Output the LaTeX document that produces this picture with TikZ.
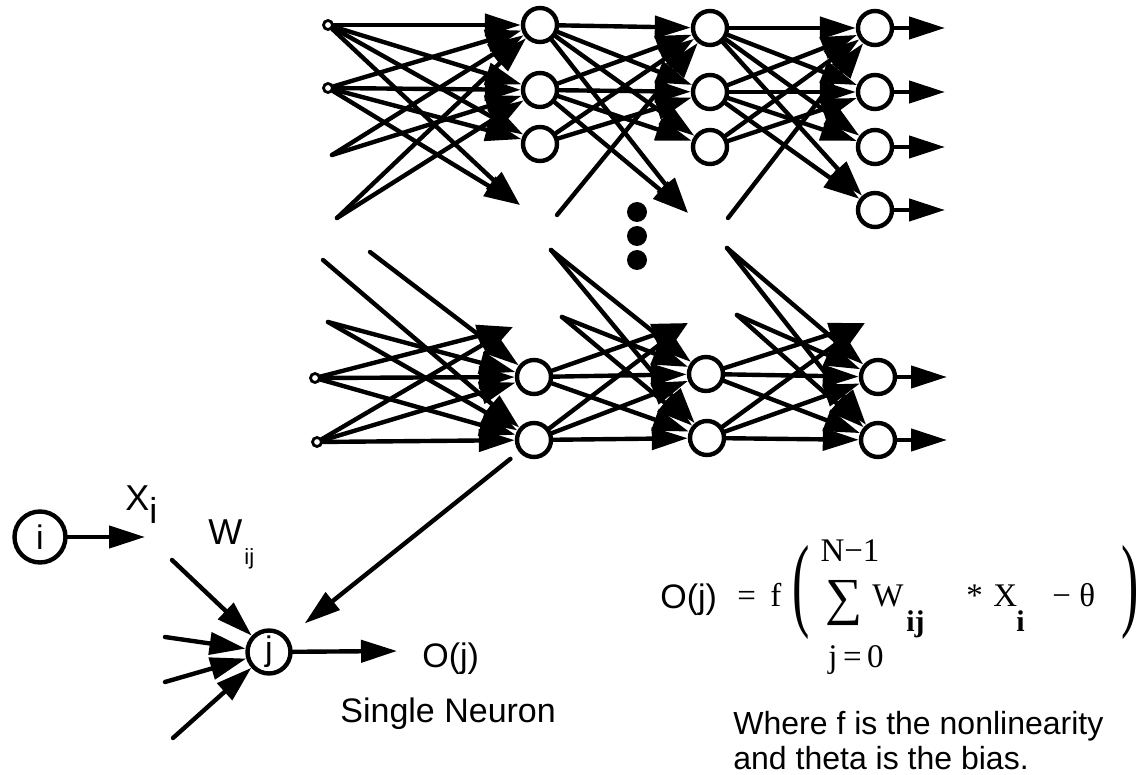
\documentclass[tikz,border=0pt]{standalone}
\usepackage{fontspec}
\setmainfont{Liberation Serif}
\setsansfont{Liberation Sans}
\usetikzlibrary{arrows.meta}

\begin{document}
\begin{tikzpicture}[x=0.5pt, y=-0.5pt,
    neuron/.style={circle, draw=black, line width=2.2pt, fill=white, minimum size=17pt, inner sep=0pt},
    innode/.style={circle, draw=black, line width=1.4pt, fill=white, minimum size=4.5pt, inner sep=0pt},
    bignode/.style={circle, draw=black, line width=2.2pt, fill=white, inner sep=0pt, font=\sffamily\fontsize{17}{20}\selectfont},
    gapdot/.style={circle, fill=black, minimum size=10pt, inner sep=0pt},
    wire/.style={line width=2.2pt, line cap=round, -{Triangle[length=18pt,width=11pt]}},
    txt/.style={font=\sffamily\fontsize{17}{20}\selectfont, inner sep=0pt},
    eqn/.style={font=\fontsize{16.5}{20}\selectfont, inner sep=0pt},
    subs/.style={font=\bfseries\fontsize{15}{18}\selectfont, inner sep=0pt, anchor=base west},
    paren/.style={font=\fontsize{52}{56}\selectfont, inner sep=0pt}
  ]
  \useasboundingbox (0,0) rectangle (1142,775);

  % upper block
  \node[innode] (a1) at (328,25) {};
  \node[innode] (a2) at (328,88) {};
  \coordinate (s1) at (332,155);
  \coordinate (s2) at (337,218);
  \node[neuron] (b1) at (540,25) {};
  \node[neuron] (b2) at (540,90) {};
  \node[neuron] (b3) at (540,144) {};
  \coordinate (e1) at (520,205);
  \coordinate (s3) at (557,215);
  \node[neuron] (c1) at (710,28) {};
  \node[neuron] (c2) at (710,92) {};
  \node[neuron] (c3) at (710,147) {};
  \coordinate (e2) at (688,213);
  \coordinate (s4) at (728,218);
  \node[neuron] (d1) at (875,28) {};
  \node[neuron] (d2) at (875,92) {};
  \node[neuron] (d3) at (875,147) {};
  \node[neuron] (d4) at (875,210) {};
  \coordinate (o1) at (945,28);
  \coordinate (o2) at (945,92);
  \coordinate (o3) at (945,147);
  \coordinate (o4) at (945,210);

  % lower block
  \coordinate (t1) at (323,260);
  \coordinate (t2) at (370,252);
  \coordinate (t3) at (328,322);
  \node[innode] (f1) at (315,378) {};
  \node[innode] (f2) at (317,442) {};
  \node[neuron] (g1) at (534,377) {};
  \node[neuron] (g2) at (534,440) {};
  \coordinate (h1) at (513,327);
  \coordinate (u1) at (551,250);
  \coordinate (u2) at (562,317);
  \node[neuron] (k1) at (706,374) {};
  \node[neuron] (k2) at (707,438) {};
  \coordinate (h2) at (688,323);
  \coordinate (v1) at (727,248);
  \coordinate (v2) at (737,315);
  \node[neuron] (m1) at (878,377) {};
  \node[neuron] (m2) at (878,440) {};
  \coordinate (h3) at (865,323);
  \coordinate (p1) at (947,377);
  \coordinate (p2) at (947,440);

  % the gap between the blocks
  \node[gapdot] (dot1) at (637,212) {};
  \node[gapdot] (dot2) at (637,236) {};
  \node[gapdot] (dot3) at (637,260) {};

  % connections, upper block
  \foreach \s in {a1,a2} \foreach \t in {b1,b2,b3,e1} \draw[wire] (\s) -- (\t);
  \foreach \s in {s1,s2} \foreach \t in {b1,b2} \draw[wire] (\s) -- (\t);
  \foreach \s in {b1,b2} \foreach \t in {c1,c2,c3,e2} \draw[wire] (\s) -- (\t);
  \foreach \t in {c1,c2} \draw[wire] (b3) -- (\t);
  \draw[wire] (s3) -- (c1);
  \foreach \s in {c1,c2} \foreach \t in {d1,d2,d3,d4} \draw[wire] (\s) -- (\t);
  \foreach \t in {d1,d2} \draw[wire] (c3) -- (\t);
  \draw[wire] (s4) -- (d1);
  \foreach \n in {1,...,4} \draw[wire] (d\n) -- (o\n);

  % connections, lower block
  \draw[wire] (t1) -- (g2);
  \draw[wire] (t2) -- (g1);
  \foreach \t in {g1,g2} \draw[wire] (t3) -- (\t);
  \foreach \s in {f1,f2} \foreach \t in {g1,g2,h1} \draw[wire] (\s) -- (\t);
  \foreach \s in {u1,u2} \foreach \t in {k1,k2} \draw[wire] (\s) -- (\t);
  \foreach \s in {g1,g2} \foreach \t in {k1,k2,h2} \draw[wire] (\s) -- (\t);
  \foreach \s in {v1,v2} \foreach \t in {m1,m2} \draw[wire] (\s) -- (\t);
  \foreach \s in {k1,k2} \foreach \t in {m1,m2,h3} \draw[wire] (\s) -- (\t);
  \foreach \n in {1,2} \draw[wire] (m\n) -- (p\n);

  % single neuron
  \node[bignode, minimum size=25.5pt] (ni) at (40,537) {i};
  \node[bignode, minimum size=21.5pt] (nj) at (269,652) {j};
  \coordinate (xi) at (145,537);
  \coordinate (w1) at (172,560);
  \coordinate (w2) at (165,637);
  \coordinate (w3) at (165,682);
  \coordinate (w4) at (173,738);
  \coordinate (oj) at (397,651);
  \draw[wire] (ni) -- (xi);
  \foreach \n in {1,...,4} \draw[wire] (w\n) -- (nj);
  \draw[wire] (nj) -- (oj);
  \draw[wire, shorten <=5.5pt, shorten >=11pt] (g2) -- (nj);
  \node[txt, anchor=base west, font=\sffamily\fontsize{18}{20}\selectfont] (lx) at (125,510) {X\raisebox{-6.5pt}{i}};
  \node[txt, anchor=base west, font=\sffamily\fontsize{18}{20}\selectfont] (lw) at (208,545) {W\hspace{1pt}\raisebox{-10pt}{\fontsize{11}{13}\selectfont ij}};
  \node[txt, anchor=base west] (lout) at (422,667) {O(j)};
  \node[txt, anchor=base west] (lsingle) at (340,722) {Single Neuron};

  % formula
  \node[txt, anchor=base west] (fo) at (660,608) {O(j)};
  \node[eqn, anchor=base west] (feq) at (737,606) {=};
  \node[eqn, anchor=base west] (ff) at (770,606) {f};
  \node[paren] (flp) at (801,592) {\scalebox{0.5}[1]{(}};
  \node[eqn] (ftop) at (850,551) {N−1};
  \node[eqn, font=\fontsize{26}{30}\selectfont] (fsum) at (844,603) {∑};
  \node[eqn, anchor=base west] (fw) at (872,606) {W};
  \node[subs] (fwij) at (906,632) {ij};
  \node[eqn, anchor=base west] (fstar) at (966,606) {*};
  \node[eqn, anchor=base west] (fx) at (993,606) {X};
  \node[subs] (fxi) at (1016,632) {i};
  \node[eqn, anchor=base west] (fminus) at (1052,606) {−};
  \node[eqn, anchor=base west] (ftheta) at (1079,606) {θ};
  \node[paren] (frp) at (1130,592) {\scalebox{0.5}[1]{)}};
  \node[eqn] (fbot) at (856,660) {j\,=\,0};
  \node[txt, anchor=north west, align=left, font=\sffamily\fontsize{16}{17.5}\selectfont] (note) at (733,711) {Where f is the nonlinearity\\and theta is the bias.};
\end{tikzpicture}
\end{document}
